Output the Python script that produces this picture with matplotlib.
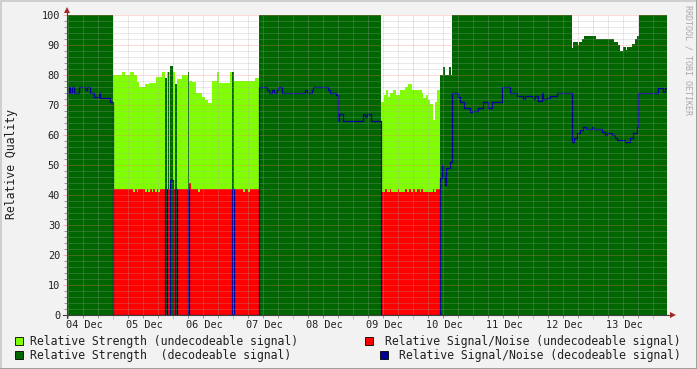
import numpy as np
import matplotlib
matplotlib.use('Agg')
import matplotlib.pyplot as plt
from matplotlib.patches import Rectangle
from matplotlib.lines import Line2D

plt.rcParams['font.family'] = ['DejaVu Sans Mono']

# ---------------- data (hours since left edge, value %) ----------------
# Relative Strength (undecodeable signal) - light green area
und_str_t = [0, 18.4, 22.0, 23.3, 25.3, 26.7, 28.0, 28.9, 31.3, 32.9, 35.6, 38.0,
             39.0, 39.8, 40.4, 40.8, 41.1, 42.4, 43.2, 44.0, 46.0, 48.3, 48.8, 50.0,
             51.6, 54.0, 55.1, 56.3, 58.0, 60.0, 60.7, 65.3, 66.0, 66.8, 75.3, 76.7,
             125.6, 126.9, 127.5, 128.5, 129.3, 130.5, 131.5, 133.2, 135.2, 136.5,
             138.1, 141.9, 142.5, 143.5, 144.5, 145.2, 146.3, 147.2, 147.9, 149.2, 240]
und_str_v = [0, 80, 81, 80, 81, 80, 77.8, 76.1, 77, 77.2, 79.4, 81,
             0, 81, 0, 81, 0, 81, 0, 78.8, 80, 0, 78, 77.8,
             73.9, 72.8, 71.7, 70.6, 78, 81, 77.2, 81, 0, 78, 79, 0,
             71.1, 73.3, 75, 72.8, 73.9, 75, 73.3, 75, 76.1, 77,
             75, 74, 72.2, 73.3, 71.7, 70.2, 65, 71.1, 75, 0, 0]

# Relative Signal/Noise (undecodeable signal) - red area
und_snr_t = [0, 18.4, 26.5, 27.2, 27.9, 28.5, 31.2, 31.9, 32.5, 33.2, 33.9, 34.5,
             35.2, 35.9, 36.5, 37.2, 39.0, 39.8, 41.1, 42.4, 43.2, 44.0, 48.3, 48.8,
             48.9, 49.5, 52.5, 53.0, 66.0, 66.8, 70.5, 71.0, 72.5, 73.0, 76.7,
             125.6, 127.2, 127.9, 129.2, 129.6, 132.3, 132.8, 135.2, 136.0, 136.8,
             137.6, 138.4, 139.2, 140.0, 141.2, 141.6, 142.3, 146.5, 146.9, 147.6,
             149.2, 240]
und_snr_v = [0, 42, 41, 42, 41, 42, 41, 42, 41, 42, 41, 42,
             41, 42, 41, 42, 0, 42, 0, 42, 0, 42, 0, 42,
             44, 42, 41, 42, 0, 42, 41, 42, 41, 42, 0,
             41, 42, 41, 42, 41, 42, 41, 42, 41, 42,
             41, 42, 41, 42, 41, 42, 41, 42, 41, 42,
             0, 0]

# Relative Strength (decodeable signal) - dark green area
dec_str_t = [0, 18.4, 39.0, 39.8, 40.4, 40.8, 41.1, 42.4, 43.2, 44.0, 48.3, 48.8,
             66.0, 66.8, 76.7, 125.6, 149.2, 150.5, 151.2, 152.7, 153.5, 154.1,
             201.9, 202.5, 204.3, 204.9, 205.9, 206.8, 211.6, 218.9, 220.3, 221.2,
             222.3, 223.5, 224.1, 225.9, 227.2, 228.1, 228.7, 240]
dec_str_v = [100, 0, 79, 0, 81, 0, 83, 0, 77, 0, 81, 0,
             81, 0, 100, 0, 80, 82.8, 80, 82.8, 80, 100,
             88.9, 91.1, 90, 91.1, 92, 93, 92, 91.1, 90, 88,
             89.2, 88.3, 89.2, 90.2, 92, 93, 100, 100]

# Relative Signal/Noise (decodeable signal) - blue line
dec_snr_t = [0, 0.7, 1.2, 2.0, 2.7, 4.9, 7.3, 8.0, 9.3, 10.7, 12.7, 13.3, 17.1,
             18.4, 39.0, 39.8, 41.1, 42.4, 43.2, 44.0, 48.3, 48.8, 66.0, 66.8,
             76.7, 79.9, 80.9, 81.9, 82.8, 83.9, 84.5, 85.9, 95.2, 96.1, 97.9, 98.5,
             104.5, 105.2, 107.6, 108.3, 108.9, 110.3, 118.5, 119.2, 119.9, 121.5,
             125.6, 149.2, 149.9, 150.5, 151.2, 151.5, 153.2, 154.1, 156.5, 157.2,
             158.9, 161.2, 161.9, 164.3, 166.5, 168.5, 169.9, 173.9, 177.2, 180.1,
             182.5, 183.2, 186.5, 187.2, 188.5, 189.9, 190.5, 191.9, 193.2, 195.9,
             201.9, 202.9, 203.9, 205.2, 206.5, 207.6, 209.9, 210.5, 213.9, 215.2,
             215.9, 217.9, 219.2, 219.9, 220.9, 223.2, 225.2, 226.5, 227.9, 228.5,
             236.5, 238.5, 239.0, 240]
dec_snr_v = [74, 76, 74, 76, 74, 76, 75, 76, 74, 72.8, 74, 72.2, 71.1,
             0, 42, 0, 45, 0, 42, 0, 42, 0, 42, 0,
             76, 75, 74, 75, 74, 75, 76, 74, 75, 74, 75, 76,
             75, 74, 73.3, 64.8, 67, 64.8, 67, 66, 67, 64.8,
             0, 45.8, 50, 46, 43.3, 48.9, 51.1, 74, 72.8, 70.9,
             68.9, 67.8, 68, 69, 71, 69, 71, 75.9, 74, 73,
             72, 73, 72, 73, 71.3, 74, 72, 72.5, 73, 74,
             57.8, 58.9, 60.6, 61.7, 62.8, 61.9, 62.8, 61.9, 60.9, 60,
             60.6, 60, 59.1, 58.5, 58.2, 57.8, 58.9, 60.6, 62.8, 74,
             75.8, 74.5, 75.8, 75.8]

day_labels = ['04 Dec', '05 Dec', '06 Dec', '07 Dec', '08 Dec',
              '09 Dec', '10 Dec', '11 Dec', '12 Dec', '13 Dec']
y_ticks = list(range(0, 101, 10))

legend_items = [
    ('Relative Strength (undecodeable signal)', '#80ff00'),
    ('Relative Signal/Noise (undecodeable signal)', '#ff0000'),
    ('Relative Strength  (decodeable signal)', '#006600'),
    ('Relative Signal/Noise (decodeable signal)', '#000099'),
]

# ---------------- styling ----------------
C_LG = '#80ff00'
C_DG = '#006600'
C_RED = '#ff0000'
C_BLUE = '#000099'
BG = '#f2f2f2'
GRID_MIN = (0.66, 0.66, 0.66, 0.5)
GRID_MAJ = (1.0, 0.45, 0.45, 0.55)
ARROW = '#a02828'

W, H = 697, 369
fig = plt.figure(figsize=(W / 100, H / 100), dpi=100, facecolor=BG)


def fx(px):
    return px / W


def fy(py):
    return 1 - py / H


ax = fig.add_axes([fx(67), fy(315), 600 / W, 300 / H])
ax.set_facecolor('white')
ax.set_xlim(0, 240)
ax.set_ylim(0, 100)
for s in ax.spines.values():
    s.set_visible(False)

ax.fill_between(und_str_t, und_str_v, 0, step='post', color=C_LG, lw=0, zorder=1)
ax.fill_between(dec_str_t, dec_str_v, 0, step='post', color=C_DG, lw=0, zorder=2)
ax.fill_between(und_snr_t, und_snr_v, 0, step='post', color=C_RED, lw=0, zorder=3)
ax.step(dec_snr_t, dec_snr_v, where='post', color=C_BLUE, lw=0.9, zorder=4)

# grid
dots = (0, (1, 1))
x_major = [18.5 + 24 * k for k in range(10)]
x_minor = [0.5 + 6 * k for k in range(40) if (0.5 + 6 * k) not in x_major]
for x in x_minor:
    ax.axvline(x, color=GRID_MIN, lw=0.72, ls=dots, zorder=5)
for x in x_major:
    ax.axvline(x, color=GRID_MAJ, lw=0.72, ls=dots, zorder=5)
for y in range(2, 101, 2):
    col = GRID_MAJ if y % 10 == 0 else GRID_MIN
    ax.axhline(y, color=col, lw=0.72, ls=dots, zorder=5)

# ticks
ax.set_xticks(x_major)
ax.set_xticks(x_minor, minor=True)
ax.set_xticklabels([])
ax.tick_params(axis='x', which='major', length=3, width=0.7, color=GRID_MAJ, direction='out')
ax.tick_params(axis='x', which='minor', length=2, width=0.7, color=(0.6, 0.6, 0.6), direction='out')
ax.set_yticks(y_ticks)
ax.set_yticks(range(0, 101, 2), minor=True)
ax.set_yticklabels([str(v) for v in y_ticks], fontsize=7.4, color='#202020')
ax.tick_params(axis='y', which='major', length=3, width=0.7, color=GRID_MAJ, direction='out', pad=2)
ax.tick_params(axis='y', which='minor', length=2, width=0.7, color=(0.6, 0.6, 0.6), direction='out')

xt = ax.get_xaxis_transform()
for i, lab in enumerate(day_labels):
    ax.text(6.8 + 24 * i, -0.034, lab, transform=xt, ha='center', va='center',
            fontsize=7.4, color='#202020')

# axes lines and arrows
ax.plot([-1.5, 241.5], [0, 0], color='#404040', lw=0.8, clip_on=False, zorder=10)
ax.plot([0, 0], [-1, 101], color='#404040', lw=0.8, clip_on=False, zorder=10)
ax.plot([242.3], [0], marker='>', ms=4.2, color=ARROW, clip_on=False, zorder=11, mew=0)
ax.plot([0], [101.6], marker='^', ms=4.2, color=ARROW, clip_on=False, zorder=11, mew=0)

# labels
fig.text(fx(12), fy(164), 'Relative Quality', rotation=90, ha='center', va='center',
         fontsize=8.3, color='#202020')
fig.text(fx(688), fy(5), 'RRDTOOL / TOBI OETIKER', rotation=270, ha='center', va='top',
         fontsize=6, color='#a8a8a8')

# legend
sq = 8
rows = [341, 355]
left_sq_x = 15
left_txt_x = 30
right_sq_x = [365, 380]
for i, (txt, col) in enumerate(legend_items):
    r = i // 2
    yc = rows[r]
    if i % 2 == 0:
        fig.add_artist(Rectangle((fx(left_sq_x), fy(yc + sq / 2)), sq / W, sq / H,
                                 transform=fig.transFigure, facecolor=col,
                                 edgecolor='#000000', lw=0.6))
        fig.text(fx(left_txt_x), fy(yc), txt, ha='left', va='center', fontsize=8.3,
                 color='#202020')
    else:
        fig.add_artist(Rectangle((fx(right_sq_x[r]), fy(yc + sq / 2)), sq / W, sq / H,
                                 transform=fig.transFigure, facecolor=col,
                                 edgecolor='#000000', lw=0.6))
        fig.text(fx(681), fy(yc), txt, ha='right', va='center', fontsize=8.3,
                 color='#202020')

# frame shading
fig.add_artist(Line2D([0, 1], [fy(0.5), fy(0.5)], transform=fig.transFigure, color='#cfcfcf', lw=1.4))
fig.add_artist(Line2D([fx(0.5), fx(0.5)], [0, 1], transform=fig.transFigure, color='#cfcfcf', lw=1.4))
fig.add_artist(Line2D([0, 1], [fy(368.5), fy(368.5)], transform=fig.transFigure, color='#9e9e9e', lw=1.4))
fig.add_artist(Line2D([fx(696.5), fx(696.5)], [0, 1], transform=fig.transFigure, color='#9e9e9e', lw=1.4))

fig.savefig('out.png', dpi=100, facecolor=BG)
